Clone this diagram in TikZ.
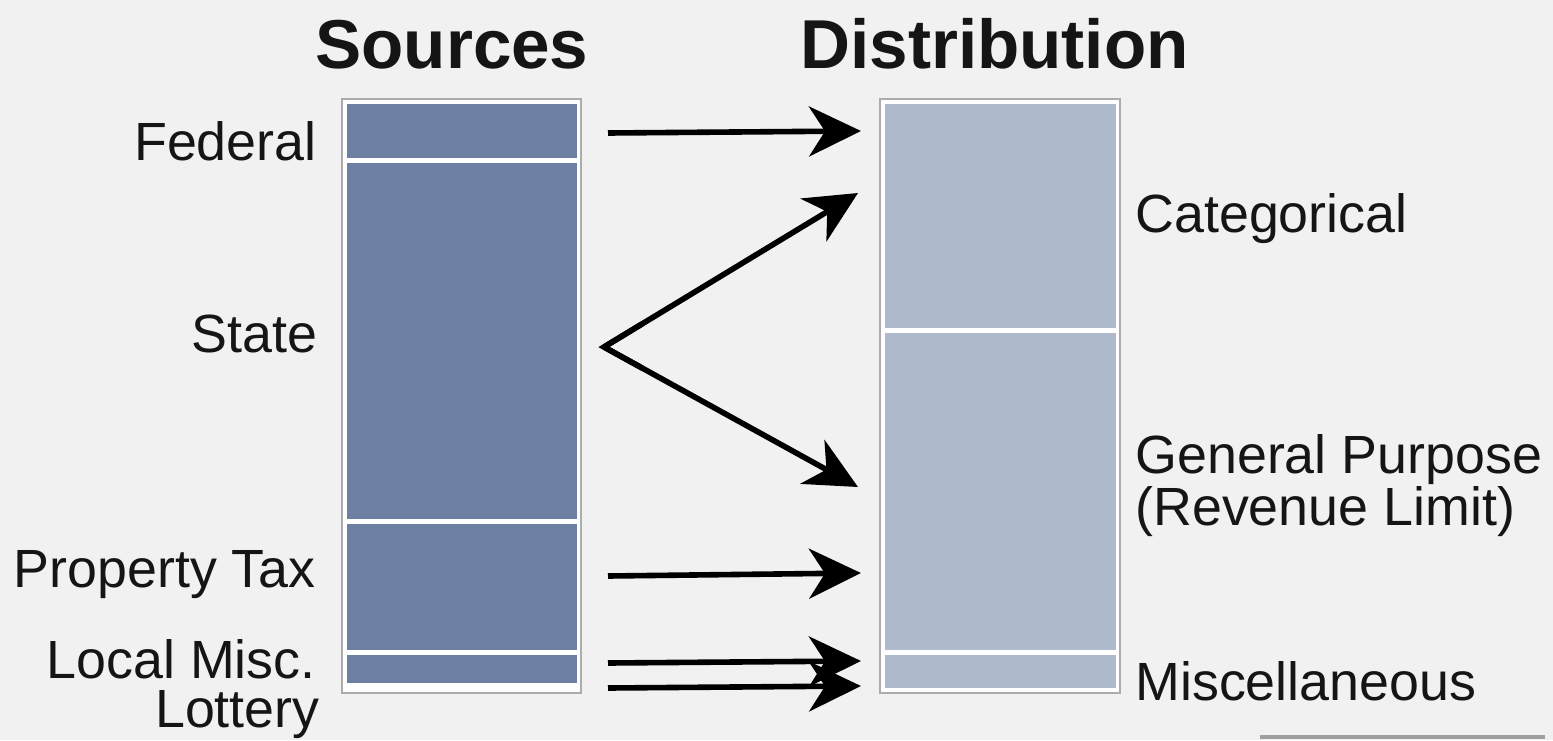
\documentclass[tikz,border=0pt]{standalone}
\usepackage{fontspec}
\setmainfont{Liberation Sans}
\usetikzlibrary{arrows.meta,calc}
\definecolor{bg}{HTML}{F1F1F1}
\definecolor{srcblue}{HTML}{6D80A4}
\definecolor{dstblue}{HTML}{AEB9CC}
\definecolor{txt}{HTML}{151515}
\begin{document}
\begin{tikzpicture}[x=0.5pt,y=-0.5pt,
  lab/.style={font=\fontsize{26.9}{31}\selectfont, text=txt, inner sep=0pt},
  ttl/.style={font=\fontsize{34.6}{40}\selectfont\bfseries, text=txt, inner sep=0pt},
  framebox/.style={draw=gray!65, fill=white, line width=0.8pt},
  flow/.style={line width=2.8pt, draw=black, -{Stealth[length=26pt,width=25pt,inset=8pt]}},
]
\fill[bg] (0,0) rectangle (1553,740);
\useasboundingbox (0,0) rectangle (1553,740);

% titles
\node[ttl, anchor=base west] (tsrc) at (315,68) {Sources};
\node[ttl, anchor=base west] (tdst) at (800,68) {Distribution};

% sources column
\draw[framebox] (342,99) rectangle (581,693);
\fill[srcblue] (347,104) rectangle (577,158);
\fill[srcblue] (347,163) rectangle (577,519);
\fill[srcblue] (347,524) rectangle (577,650);
\fill[srcblue] (347,655) rectangle (577,683);

% distribution column
\draw[framebox] (880,99) rectangle (1120,693);
\fill[dstblue] (885,104) rectangle (1116,328);
\fill[dstblue] (885,333) rectangle (1116,650);
\fill[dstblue] (885,655) rectangle (1116,688);

% left labels
\node[lab, anchor=base east] (lfed) at (317,160) {Federal};
\node[lab, anchor=base east] (lstate) at (318,352) {State};
\node[lab, anchor=base east] (lprop) at (316,587) {Property Tax};
\node[lab, anchor=base east] (lloc) at (316,678) {Local Misc.};
\node[lab, anchor=base east] (llot) at (320,727) {Lottery};

% right labels
\node[lab, anchor=base west] (rcat) at (1135,232) {Categorical};
\node[lab, anchor=base west] (rgen) at (1135,473) {General Purpose};
\node[lab, anchor=base west] (rrev) at (1135,525) {(Revenue Limit)};
\node[lab, anchor=base west] (rmisc) at (1135,700) {Miscellaneous};

% arrow end points
\coordinate (sfed) at (608,133);
\coordinate (efed) at (861,131);
\coordinate (sstate) at (604,347);
\coordinate (ecat) at (858,193);
\coordinate (egen) at (858,487);
\coordinate (sprop) at (608,576);
\coordinate (eprop) at (861,573);
\coordinate (sloc) at (608,663);
\coordinate (eloc) at (861,661);
\coordinate (slot) at (608,688);
\coordinate (elot) at (861,686);

\draw[flow] (sfed) -- (efed);
\draw[flow] (sstate) -- (ecat);
\draw[flow] (sstate) -- (egen);
\draw[line width=2.8pt, line join=miter] ($(sstate)!0.15!(ecat)$) -- (sstate) -- ($(sstate)!0.15!(egen)$);
\draw[flow] (sprop) -- (eprop);
\draw[flow] (sloc) -- (eloc);
\draw[flow] (slot) -- (elot);

% partial element at bottom right
\draw[gray!75, line width=2pt] (1260,737) -- (1545,737);
\end{tikzpicture}
\end{document}
